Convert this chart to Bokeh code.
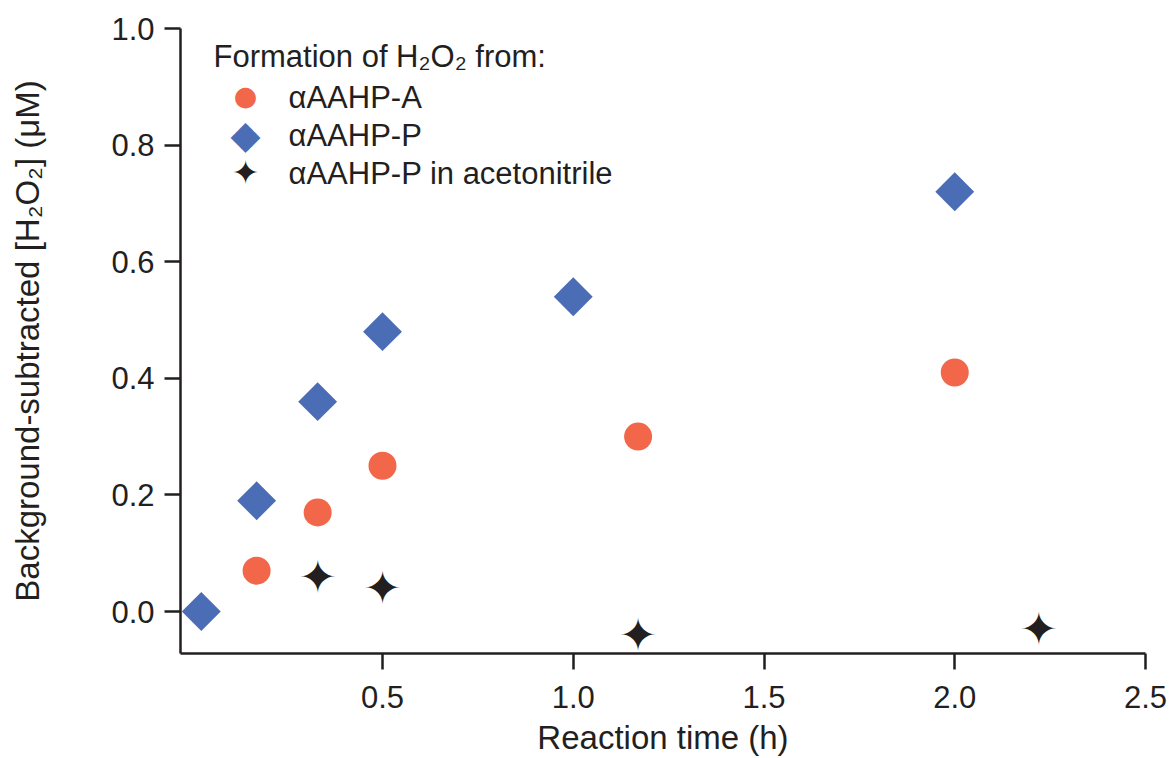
import math
from bokeh.plotting import figure
from bokeh.models import FixedTicker, Label, Range1d
from bokeh.core.properties import value
from bokeh.embed import file_html
from bokeh.resources import INLINE

# ---- data ----
a_time = [0.17, 0.33, 0.5, 1.17, 2.0]
a_h2o2 = [0.07, 0.17, 0.25, 0.30, 0.41]

p_time = [0.025, 0.17, 0.33, 0.5, 1.0, 2.0]
p_h2o2 = [0.0, 0.19, 0.36, 0.48, 0.54, 0.72]

acn_time = [0.33, 0.5, 1.17, 2.22]
acn_h2o2 = [0.06, 0.04, -0.04, -0.03]

x_ticks = [0.5, 1.0, 1.5, 2.0, 2.5]
x_tick_labels = ["0.5", "1.0", "1.5", "2.0", "2.5"]
y_ticks = [0.0, 0.2, 0.4, 0.6, 0.8, 1.0]
y_tick_labels = ["0.0", "0.2", "0.4", "0.6", "0.8", "1.0"]

legend_title = "Formation of H\u2082O\u2082 from:"
series_names = ["\u03b1AAHP-A", "\u03b1AAHP-P", "\u03b1AAHP-P in acetonitrile"]

x_label = "Reaction time (h)"
y_label = "Background-subtracted [H\u2082O\u2082] (\u03bcM)"

# ---- style ----
INK = "#231f20"
ORANGE = "#f26649"
BLUE = "#4a6db5"
FONT = "Liberation Sans"

p = figure(width=1173, height=758,
           x_range=Range1d(-0.0295, 2.5), y_range=Range1d(-0.072, 1.0),
           output_backend="svg", toolbar_location=None,
           min_border_left=180, min_border_right=28,
           min_border_top=28, min_border_bottom=105)
p.outline_line_color = None
p.xgrid.visible = False
p.ygrid.visible = False
p.background_fill_color = "white"
p.border_fill_color = "white"

for ax in (p.xaxis[0], p.yaxis[0]):
    ax.axis_line_color = INK
    ax.axis_line_width = 2.5
    ax.major_tick_line_color = INK
    ax.major_tick_line_width = 2.5
    ax.major_tick_in = 0
    ax.major_tick_out = 16
    ax.minor_tick_line_color = None
    ax.major_label_text_font = FONT
    ax.major_label_text_font_size = "31px"
    ax.major_label_text_color = INK
    ax.axis_label_text_font = FONT
    ax.axis_label_text_font_size = "33px"
    ax.axis_label_text_font_style = "normal"
    ax.axis_label_text_color = INK

p.xaxis.ticker = FixedTicker(ticks=x_ticks)
p.xaxis.major_label_overrides = {t: l for t, l in zip(x_ticks, x_tick_labels)}
p.yaxis.ticker = FixedTicker(ticks=y_ticks)
p.yaxis.major_label_overrides = {t: l for t, l in zip(y_ticks, y_tick_labels)}
p.xaxis.major_label_standoff = 16
p.yaxis.major_label_standoff = 10

p.xaxis.axis_label = x_label
p.xaxis.axis_label_standoff = 8
p.yaxis.axis_label = y_label
p.yaxis.axis_label_standoff = 62

# ---- data marks ----
p.scatter(a_time, a_h2o2, marker="circle", size=28,
          fill_color=ORANGE, line_color=None)
p.scatter(p_time, p_h2o2, marker="square", size=27.5, angle=math.pi / 4,
          fill_color=BLUE, line_color=None)
p.text(acn_time, acn_h2o2, text=["\u2726"] * len(acn_time),
       text_font=value("DejaVu Sans"), text_font_size="46px",
       text_color=INK, text_align="center", text_baseline="middle")

# ---- legend (screen coordinates: x from frame left, y from frame bottom) ----
frame_bottom = 653
frame_left = 180
def sx(px):
    return px - frame_left
def sy(py):
    return frame_bottom - py

p.add_layout(Label(x=sx(213), y=sy(56), x_units="screen", y_units="screen",
                   text=legend_title, text_font=FONT, text_font_size="31px",
                   text_color=INK, text_baseline="alphabetic"))
row_base = [97, 135, 173]
mark_center = [95, 134, 172]
marks = ["\u25cf", "\u25c6", "\u2726"]
mark_colors = [ORANGE, BLUE, INK]
mark_sizes = ["27px", "39px", "33px"]
for name, base, mcy, mk, mc, ms in zip(series_names, row_base, mark_center,
                                       marks, mark_colors, mark_sizes):
    p.add_layout(Label(x=sx(288), y=sy(base), x_units="screen", y_units="screen",
                       text=name, text_font=FONT, text_font_size="31px",
                       text_color=INK, text_baseline="alphabetic"))
    p.add_layout(Label(x=sx(245), y=sy(mcy), x_units="screen", y_units="screen",
                       text=mk, text_font="DejaVu Sans", text_font_size=ms,
                       text_color=mc, text_align="center", text_baseline="middle"))

open("out.html", "w").write(file_html(p, INLINE))
